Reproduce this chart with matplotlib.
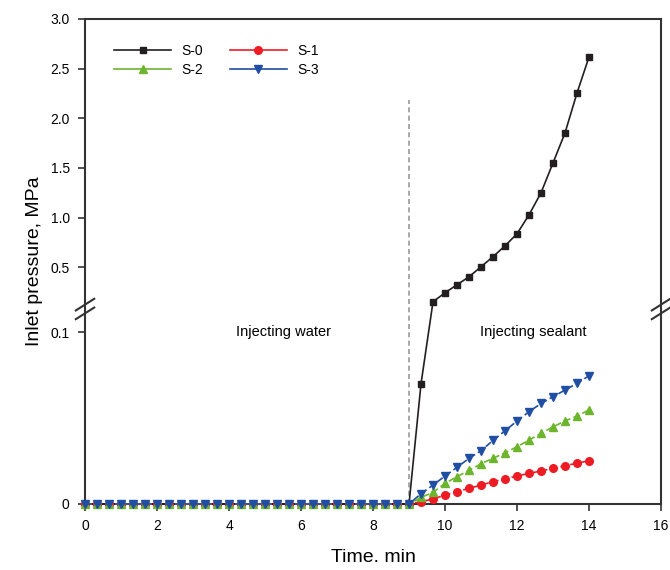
import numpy as np
import matplotlib
matplotlib.use('Agg')
from matplotlib import pyplot
from matplotlib.lines import Line2D


#(0) Data
time  = np.round(np.arange(0, 43) / 3.0, 4)          # 0 ... 14 min, every 20 s
n0    = 28                                            # points up to t = 9 min (all zero)
s0    = [0.0]*n0 + [0.070, 0.153, 0.243, 0.324, 0.404, 0.505, 0.606, 0.716,
                    0.837, 1.028, 1.250, 1.551, 1.853, 2.255, 2.618]
s1    = [0.0]*n0 + [0.0013, 0.0029, 0.0052, 0.0072, 0.0091, 0.0110, 0.0130, 0.0145,
                    0.0163, 0.0178, 0.0192, 0.0207, 0.0223, 0.0237, 0.0252]
s2    = [0.0]*n0 + [0.0038, 0.0068, 0.0120, 0.0159, 0.0196, 0.0234, 0.0266, 0.0298,
                    0.0333, 0.0372, 0.0411, 0.0449, 0.0483, 0.0512, 0.0547]
s3    = [0.0]*n0 + [0.0060, 0.0110, 0.0163, 0.0213, 0.0266, 0.0310, 0.0370, 0.0426,
                    0.0483, 0.0537, 0.0585, 0.0624, 0.0663, 0.0702, 0.0746]
LABELS  = 'S-0', 'S-1', 'S-2', 'S-3'
COLORS  = '#231f20', '#ed1c24', '#6cb52d', '#1f4ea3'
MARKERS = 's', 'o', '^', 'v'
MSIZES  = 5, 5.5, 5.5, 5.5
STYLES  = '-', '--', '--', '--'
YTICKS  = [0, 0.1, 0.5, 1.0, 1.5, 2.0, 2.5, 3.0]
YTLABS  = ['0', '0.1', '0.5', '1.0', '1.5', '2.0', '2.5', '3.0']
XTICKS  = np.arange(0, 17, 2)
t_switch = 9.0


#(1) Broken y scale: 0-0.11 stretched, 0.11-0.12 gap, 0.12-3.0 compressed
bv = np.array([0.0, 0.11, 0.12, 3.0])
bp = np.array([0.0, 189.2, 199.2, 485.5])
def fwd(v):
	v = np.asarray(v, dtype=float)
	out = np.interp(v, bv, bp)
	out = np.where(v < bv[0], v*bp[1]/bv[1], out)
	out = np.where(v > bv[-1], bp[-1] + (v-bv[-1])*(bp[-1]-bp[-2])/(bv[-1]-bv[-2]), out)
	return out
def inv(p):
	p = np.asarray(p, dtype=float)
	out = np.interp(p, bp, bv)
	out = np.where(p < bp[0], p*bv[1]/bp[1], out)
	out = np.where(p > bp[-1], bv[-1] + (p-bp[-1])*(bv[-1]-bv[-2])/(bp[-1]-bp[-2]), out)
	return out


#(2) Plot
pyplot.rcParams['font.family'] = ['Liberation Sans', 'DejaVu Sans']
fig = pyplot.figure(figsize=(6.7, 5.7), dpi=100)
ax  = fig.add_axes([0.1269, 0.1158, 0.8597, 0.8509])
ax.set_yscale('function', functions=(fwd, inv))

for y, c, m, ms, ls in zip([s0, s1, s2, s3], COLORS, MARKERS, MSIZES, STYLES):
	ax.plot(time, y, color=c, marker=m, ls=ls, lw=1.2, ms=ms, mec=c, clip_on=False,
	        dashes=(4, 2) if ls == '--' else (None, None), zorder=3)

ax.plot([t_switch, t_switch], [0, 2.185], color='#999999', ls=(0, (3, 2)), lw=1.2, zorder=2)

ax.set_xlim(0, 16)
ax.set_ylim(0, 3.0)
ax.set_xticks(XTICKS)
ax.set_yticks(YTICKS)
ax.set_yticklabels(YTLABS)
ax.minorticks_off()
ax.tick_params(direction='out', length=5, width=1.2, color='#333333', labelsize=10, pad=6)
ax.tick_params(top=False, right=False)
for sp in ax.spines.values():
	sp.set_color('#333333')
	sp.set_linewidth(1.5)

ax.set_xlabel('Time. min', fontsize=14, labelpad=11)
ax.set_ylabel('Inlet pressure, MPa', fontsize=14, labelpad=5)

ax.text(5.5, 0.1, 'Injecting water', fontsize=10.5, ha='center', va='center')
ax.text(12.45, 0.1, 'Injecting sealant', fontsize=10.5, ha='center', va='center')

# break marks on both vertical spines
yb = 1 - (309 - 19) / 485.0
for xa in (0.0, 1.0):
	for dy in (-0.009, 0.009):
		ax.plot([xa - 0.016, xa + 0.016], [yb + dy - 0.012, yb + dy + 0.012],
		        transform=ax.transAxes, color='#333333', lw=1.5, clip_on=False, zorder=5)

handles = [Line2D([], [], color=c, marker=m, ls='-', lw=1.2, ms=ms) for c, m, ms in zip(COLORS, MARKERS, MSIZES)]
order = [0, 2, 1, 3]
leg = ax.legend([handles[i] for i in order], [LABELS[i] for i in order], ncol=2,
                loc='upper left', bbox_to_anchor=(0.039, 0.962), frameon=False, borderpad=0,
                handlelength=4.1, columnspacing=1.9, handletextpad=0.75, labelspacing=0.35,
                fontsize=10)

fig.savefig('out.png', dpi=100)
